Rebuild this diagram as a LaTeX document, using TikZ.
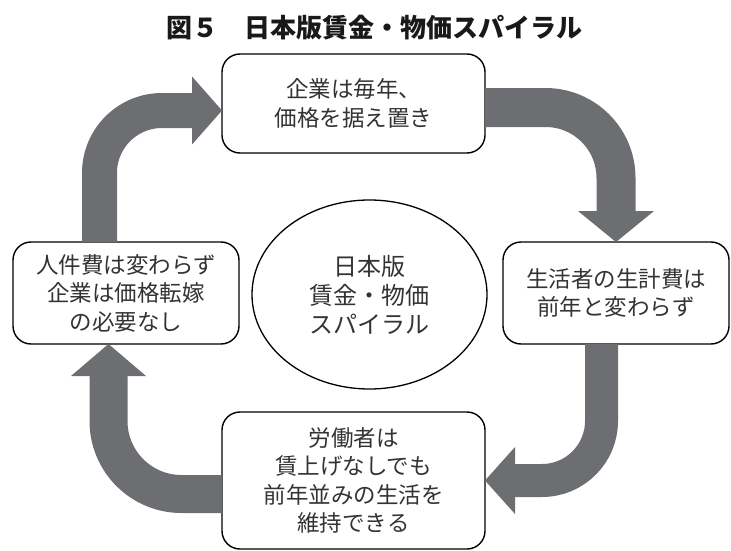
\documentclass[tikz,border=0pt]{standalone}
\usepackage{fontspec}
\setmainfont{Noto Sans CJK JP}
\usetikzlibrary{arrows.meta,shapes.geometric}
\definecolor{arrowgray}{HTML}{6D6E71}
\definecolor{txt}{HTML}{333333}
\tikzset{
  boxnode/.style={draw=black, line width=1.4pt, rounded corners=18pt, inner sep=0pt, outer sep=0pt,
    align=center, text=txt, font=\fontsize{22.5}{28.5}\selectfont},
  ellnode/.style={draw=black, line width=1.3pt, ellipse, inner sep=0pt, outer sep=0pt,
    align=center, text=txt, font=\fontsize{24}{29}\selectfont},
  bigarrow/.style={draw=arrowgray, line cap=butt, line join=miter}
}
\begin{document}
\begin{tikzpicture}[x=1pt,y=-1pt]
\useasboundingbox (0,0) rectangle (731,551);
\node[font=\bfseries\fontsize{26}{30}\selectfont, text=black!90] (title) at (374,28) {図５　日本版賃金・物価スパイラル};
\node[boxnode, minimum width=263pt, minimum height=99pt] (top) at (353.5,103.5) {企業は毎年、\\価格を据え置き};
\node[boxnode, minimum width=226pt, minimum height=102pt] (right) at (616,293) {生活者の生計費は\\前年と変わらず};
\node[boxnode, minimum width=263pt, minimum height=137pt] (bottom) at (353.5,480.5) {労働者は\\賃上げなしでも\\前年並みの生活を\\維持できる};
\node[boxnode, minimum width=226pt, minimum height=102pt] (left) at (126,293) {人件費は変わらず\\企業は価格転嫁\\の必要なし};
\node[ellnode, minimum width=235pt, minimum height=189pt] (center) at (369.5,294.5) {日本版\\賃金・物価\\スパイラル};
% arrows
\draw[bigarrow, line width=39pt, rounded corners=70.5pt, -{Triangle[length=31pt,width=76pt,line width=0pt]}]
  ([yshift=-4pt]top.east) -| (right.north);
\draw[bigarrow, line width=33pt, rounded corners=59.5pt, -{Triangle[length=30pt,width=67pt,line width=0pt]}]
  ([xshift=-14.5pt]right.south) |- (bottom.east);
\draw[bigarrow, line width=38pt, rounded corners=73pt, -{Triangle[length=32pt,width=75pt,line width=0pt]}]
  ([yshift=-13.5pt]bottom.west) -| ([xshift=-17.5pt]left.south);
\draw[bigarrow, line width=35pt, rounded corners=62.5pt, -{Triangle[length=30pt,width=68pt,line width=0pt]}]
  ([xshift=-26.5pt]left.north) |- ([yshift=-7pt]top.west);
\end{tikzpicture}
\end{document}
